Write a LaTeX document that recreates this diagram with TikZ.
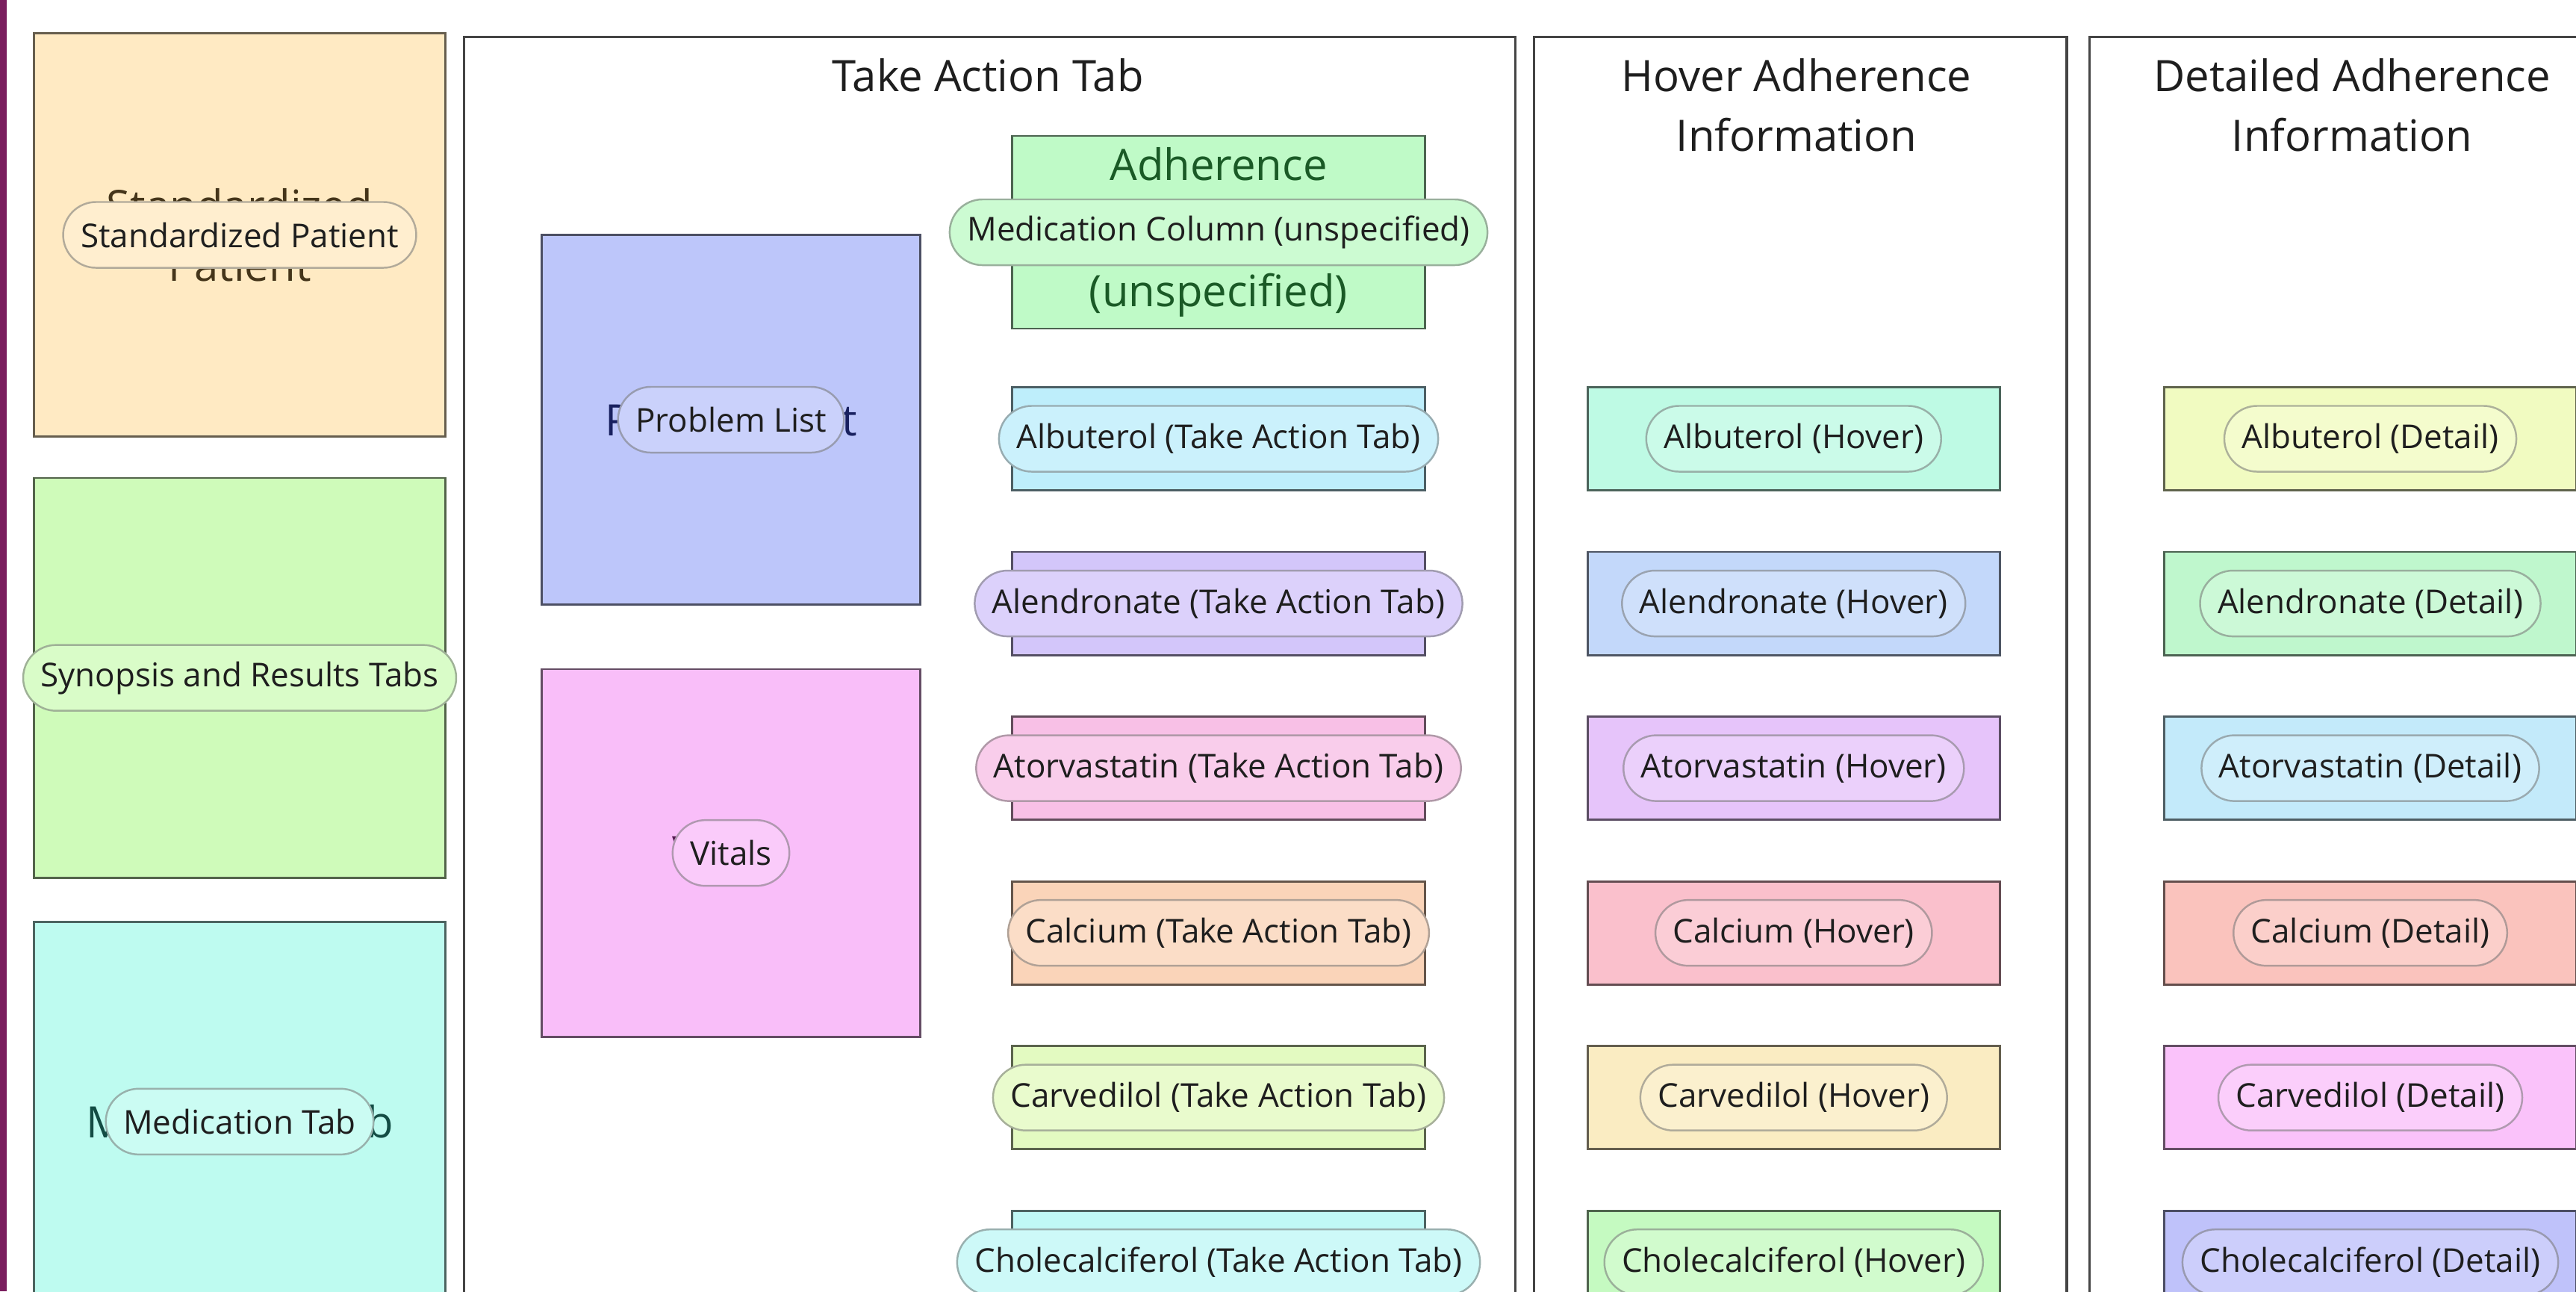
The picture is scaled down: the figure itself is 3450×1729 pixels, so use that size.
\documentclass[tikz,border=0pt]{standalone}
\usepackage{fontspec}
\setmainfont{Open Sans}
\usepackage{xcolor}
\usepackage{tikz}
\usetikzlibrary{positioning}
\definecolor{ink}{HTML}{1E1E1E}
\definecolor{rule}{HTML}{454545}
\definecolor{plum}{HTML}{7A1E5E}
\definecolor{patient}{HTML}{FFEAC3}
\definecolor{synopsis}{HTML}{CFFBBA}
\definecolor{medtab}{HTML}{BEFBF0}
\definecolor{problems}{HTML}{BDC6FA}
\definecolor{vitals}{HTML}{F9BEF9}
\definecolor{adherence}{HTML}{BFFAC7}
\definecolor{patientink}{HTML}{45351A}
\definecolor{adhink}{HTML}{1A5A26}
\definecolor{problemsink}{HTML}{18205F}
\definecolor{medtabink}{HTML}{134C44}
\definecolor{vitalsink}{HTML}{52194F}
\definecolor{albTA}{HTML}{BEEEFB}
\definecolor{alnTA}{HTML}{D3C6FA}
\definecolor{atoTA}{HTML}{F8C0E6}
\definecolor{calTA}{HTML}{FAD4B9}
\definecolor{carTA}{HTML}{E3FAC1}
\definecolor{choTA}{HTML}{C0F8F6}
\definecolor{albHv}{HTML}{BEFAE4}
\definecolor{alnHv}{HTML}{C3D8FA}
\definecolor{atoHv}{HTML}{E6C4FA}
\definecolor{calHv}{HTML}{FAC0CC}
\definecolor{carHv}{HTML}{FAECC2}
\definecolor{choHv}{HTML}{C5FAC1}
\definecolor{albDt}{HTML}{F1FBC1}
\definecolor{alnDt}{HTML}{BFF7CD}
\definecolor{atoDt}{HTML}{C3EAFA}
\definecolor{calDt}{HTML}{FAC3BD}
\definecolor{carDt}{HTML}{FAC2FA}
\definecolor{choDt}{HTML}{BFC2FA}
\tikzset{
  colframe/.style={draw=rule, line width=0.9pt, minimum height=18cm, anchor=north west,
                   inner sep=0pt},
  coltitle/.style={font=\fontsize{16.5}{22.8}\selectfont, text=ink, align=center,
                   inner sep=0pt, anchor=north},
  zone/.style={draw=#1!40!black, fill=#1, line width=0.8pt, inner sep=0pt, align=center,
               font=\fontsize{16.5}{22.8}\selectfont},
  medbox/.style={draw=#1!40!black, fill=#1, line width=0.8pt, inner sep=0pt,
                 minimum width=5.52cm, minimum height=1.38cm},
  pill/.style={draw=#1!40!gray, fill=#1!80!white, rounded corners=0.44cm, line width=0.7pt,
               minimum height=0.88cm, inner xsep=0.235cm, inner ysep=0pt,
               font=\fontsize{12.5}{15}\selectfont, text=ink},
}
\begin{document}
\begin{tikzpicture}[x=0.01cm, y=-0.01cm, node distance=0.796cm]
\useasboundingbox (0,0) rectangle (3450,1729);
\clip (0,0) rectangle (3450,1729);
\fill[plum] (0,0) rectangle (9,1729);

\node[colframe, minimum width=14.07cm] (takeaction) at (620,48) {};
\node[colframe, minimum width=7.13cm] (hover) at (2053,48) {};
\node[colframe, minimum width=7.1cm] (detailed) at (2797,48) {};
\node[coltitle] (tatitle) at (1323,78) {Take Action Tab};
\node[coltitle] (hvtitle) at (2406,78) {Hover Adherence\\Information};
\node[coltitle] (dttitle) at (3150,78) {Detailed Adherence\\Information};

\node[zone=patient, text=patientink, minimum width=5.5cm, minimum height=5.39cm]
  (patient) at (321,314.5) {Standardized\\Patient};
\node[zone=synopsis, minimum width=5.5cm, minimum height=5.35cm] (synopsis) [below=0.53cm of patient] {};
\node[zone=medtab, text=medtabink, minimum width=5.5cm, minimum height=5.35cm]
  (medtab) [below=0.56cm of synopsis] {Medication Tab};
\node[pill=patient] (patientlbl) at (patient) {Standardized Patient};
\node[pill=synopsis] (synopsislbl) at (synopsis) {Synopsis and Results Tabs};
\node[pill=medtab] (medtablbl) at (medtab) {Medication Tab};

\node[zone=problems, text=problemsink, minimum width=5.06cm, minimum height=4.94cm]
  (problems) at (979,562) {Problem List};
\node[zone=vitals, text=vitalsink, minimum width=5.06cm, minimum height=4.92cm,
      font=\fontsize{18}{22.8}\selectfont]
  (vitals) [below=0.84cm of problems] {Vitals};
\node[pill=problems] (problemslbl) at (problems) {Problem List};
\node[pill=vitals] (vitalslbl) at (vitals) {Vitals};

\node[medbox=adherence, minimum height=2.58cm, align=center, text=adhink,
      font=\fontsize{16.5}{24}\selectfont]
  (adherence) at (1632,311) {Adherence\\Medication Column\\(unspecified)};
\node[pill=adherence] (adherencelbl) at (adherence) {Medication Column (unspecified)};

\node[medbox=albTA] (albTA) at (1632,587.5) {};
\node[medbox=alnTA] (alnTA) [below=of albTA] {};
\node[medbox=atoTA] (atoTA) [below=of alnTA] {};
\node[medbox=calTA] (calTA) [below=of atoTA] {};
\node[medbox=carTA] (carTA) [below=of calTA] {};
\node[medbox=choTA] (choTA) [below=of carTA] {};
\node[pill=albTA] (albTAlbl) at (albTA) {Albuterol (Take Action Tab)};
\node[pill=alnTA] (alnTAlbl) at (alnTA) {Alendronate (Take Action Tab)};
\node[pill=atoTA] (atoTAlbl) at (atoTA) {Atorvastatin (Take Action Tab)};
\node[pill=calTA] (calTAlbl) at (calTA) {Calcium (Take Action Tab)};
\node[pill=carTA] (carTAlbl) at (carTA) {Carvedilol (Take Action Tab)};
\node[pill=choTA] (choTAlbl) at (choTA) {Cholecalciferol (Take Action Tab)};

\node[medbox=albHv] (albHv) [right=2.15cm of albTA] {};
\node[medbox=alnHv] (alnHv) [below=of albHv] {};
\node[medbox=atoHv] (atoHv) [below=of alnHv] {};
\node[medbox=calHv] (calHv) [below=of atoHv] {};
\node[medbox=carHv] (carHv) [below=of calHv] {};
\node[medbox=choHv] (choHv) [below=of carHv] {};
\node[pill=albHv] (albHvlbl) at (albHv) {Albuterol (Hover)};
\node[pill=alnHv] (alnHvlbl) at (alnHv) {Alendronate (Hover)};
\node[pill=atoHv] (atoHvlbl) at (atoHv) {Atorvastatin (Hover)};
\node[pill=calHv] (calHvlbl) at (calHv) {Calcium (Hover)};
\node[pill=carHv] (carHvlbl) at (carHv) {Carvedilol (Hover)};
\node[pill=choHv] (choHvlbl) at (choHv) {Cholecalciferol (Hover)};

\node[medbox=albDt] (albDt) [right=2.17cm of albHv] {};
\node[medbox=alnDt] (alnDt) [below=of albDt] {};
\node[medbox=atoDt] (atoDt) [below=of alnDt] {};
\node[medbox=calDt] (calDt) [below=of atoDt] {};
\node[medbox=carDt] (carDt) [below=of calDt] {};
\node[medbox=choDt] (choDt) [below=of carDt] {};
\node[pill=albDt] (albDtlbl) at (albDt) {Albuterol (Detail)};
\node[pill=alnDt] (alnDtlbl) at (alnDt) {Alendronate (Detail)};
\node[pill=atoDt] (atoDtlbl) at (atoDt) {Atorvastatin (Detail)};
\node[pill=calDt] (calDtlbl) at (calDt) {Calcium (Detail)};
\node[pill=carDt] (carDtlbl) at (carDt) {Carvedilol (Detail)};
\node[pill=choDt] (choDtlbl) at (choDt) {Cholecalciferol (Detail)};
\end{tikzpicture}
\end{document}
